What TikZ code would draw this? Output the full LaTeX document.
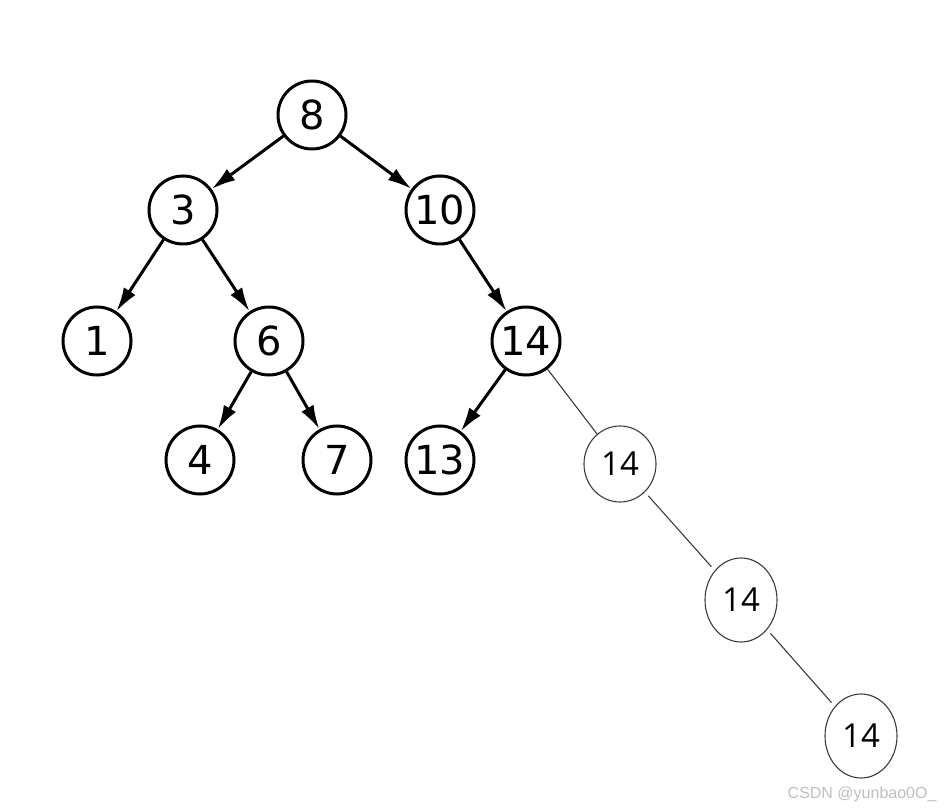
\documentclass[tikz,border=0pt]{standalone}
\usepackage{fontspec}
\setmainfont{DejaVu Sans}
\newfontfamily\thinfont{Open Sans}
\newfontfamily\wmfont{Liberation Sans}
\usepackage{xcolor}
\usetikzlibrary{arrows.meta,shapes.geometric}
\definecolor{wmgray}{HTML}{BEBEBE}
\definecolor{thingray}{HTML}{3A3A3A}

\begin{document}
\begin{tikzpicture}[x=1pt,y=-1pt,
  bstnode/.style={circle,draw,line width=3pt,minimum size=68pt,inner sep=0pt,font=\fontsize{40}{40}\selectfont},
  dupnode/.style={ellipse,draw=thingray,line width=1.1pt,minimum width=72pt,minimum height=84pt,inner sep=0pt,font=\thinfont\fontsize{33}{33}\selectfont},
  bstedge/.style={line width=3pt,-{Latex[length=24pt,width=14pt]}},
  dupedge/.style={thingray,line width=1.1pt}]
  \useasboundingbox (0,0) rectangle (946,810);
  % main tree
  \node[bstnode] (n8)  at (312,115) {8};
  \node[bstnode] (n3)  at (183,210) {3};
  \node[bstnode] (n10) at (440,210) {10};
  \node[bstnode] (n1)  at (97,341)  {1};
  \node[bstnode] (n6)  at (269,341) {6};
  \node[bstnode] (n14) at (526,341) {14};
  \node[bstnode] (n4)  at (200,460) {4};
  \node[bstnode] (n7)  at (337,460) {7};
  \node[bstnode] (n13) at (440,460) {13};
  % duplicate keys
  \node[dupnode,minimum height=76pt] (d1) at (620,464) {14};
  \node[dupnode] (d2) at (741,600) {14};
  \node[dupnode] (d3) at (861,736) {14};
  \draw[bstedge] (n8) -- (n3);
  \draw[bstedge] (n8) -- (n10);
  \draw[bstedge] (n3) -- (n1);
  \draw[bstedge] (n3) -- (n6);
  \draw[bstedge] (n10) -- (n14);
  \draw[bstedge] (n6) -- (n4);
  \draw[bstedge] (n6) -- (n7);
  \draw[bstedge] (n14) -- (n13);
  \draw[dupedge] (n14) -- (d1);
  \draw[dupedge,shorten <=5pt,shorten >=5pt] (d1) -- (d2);
  \draw[dupedge,shorten <=5pt,shorten >=5pt] (d2) -- (d3);
  \node[text=wmgray,font=\wmfont\fontsize{16}{16}\selectfont,anchor=east] (wm) at (940,794) {CSDN @yunbao0O\_};
\end{tikzpicture}
\end{document}
